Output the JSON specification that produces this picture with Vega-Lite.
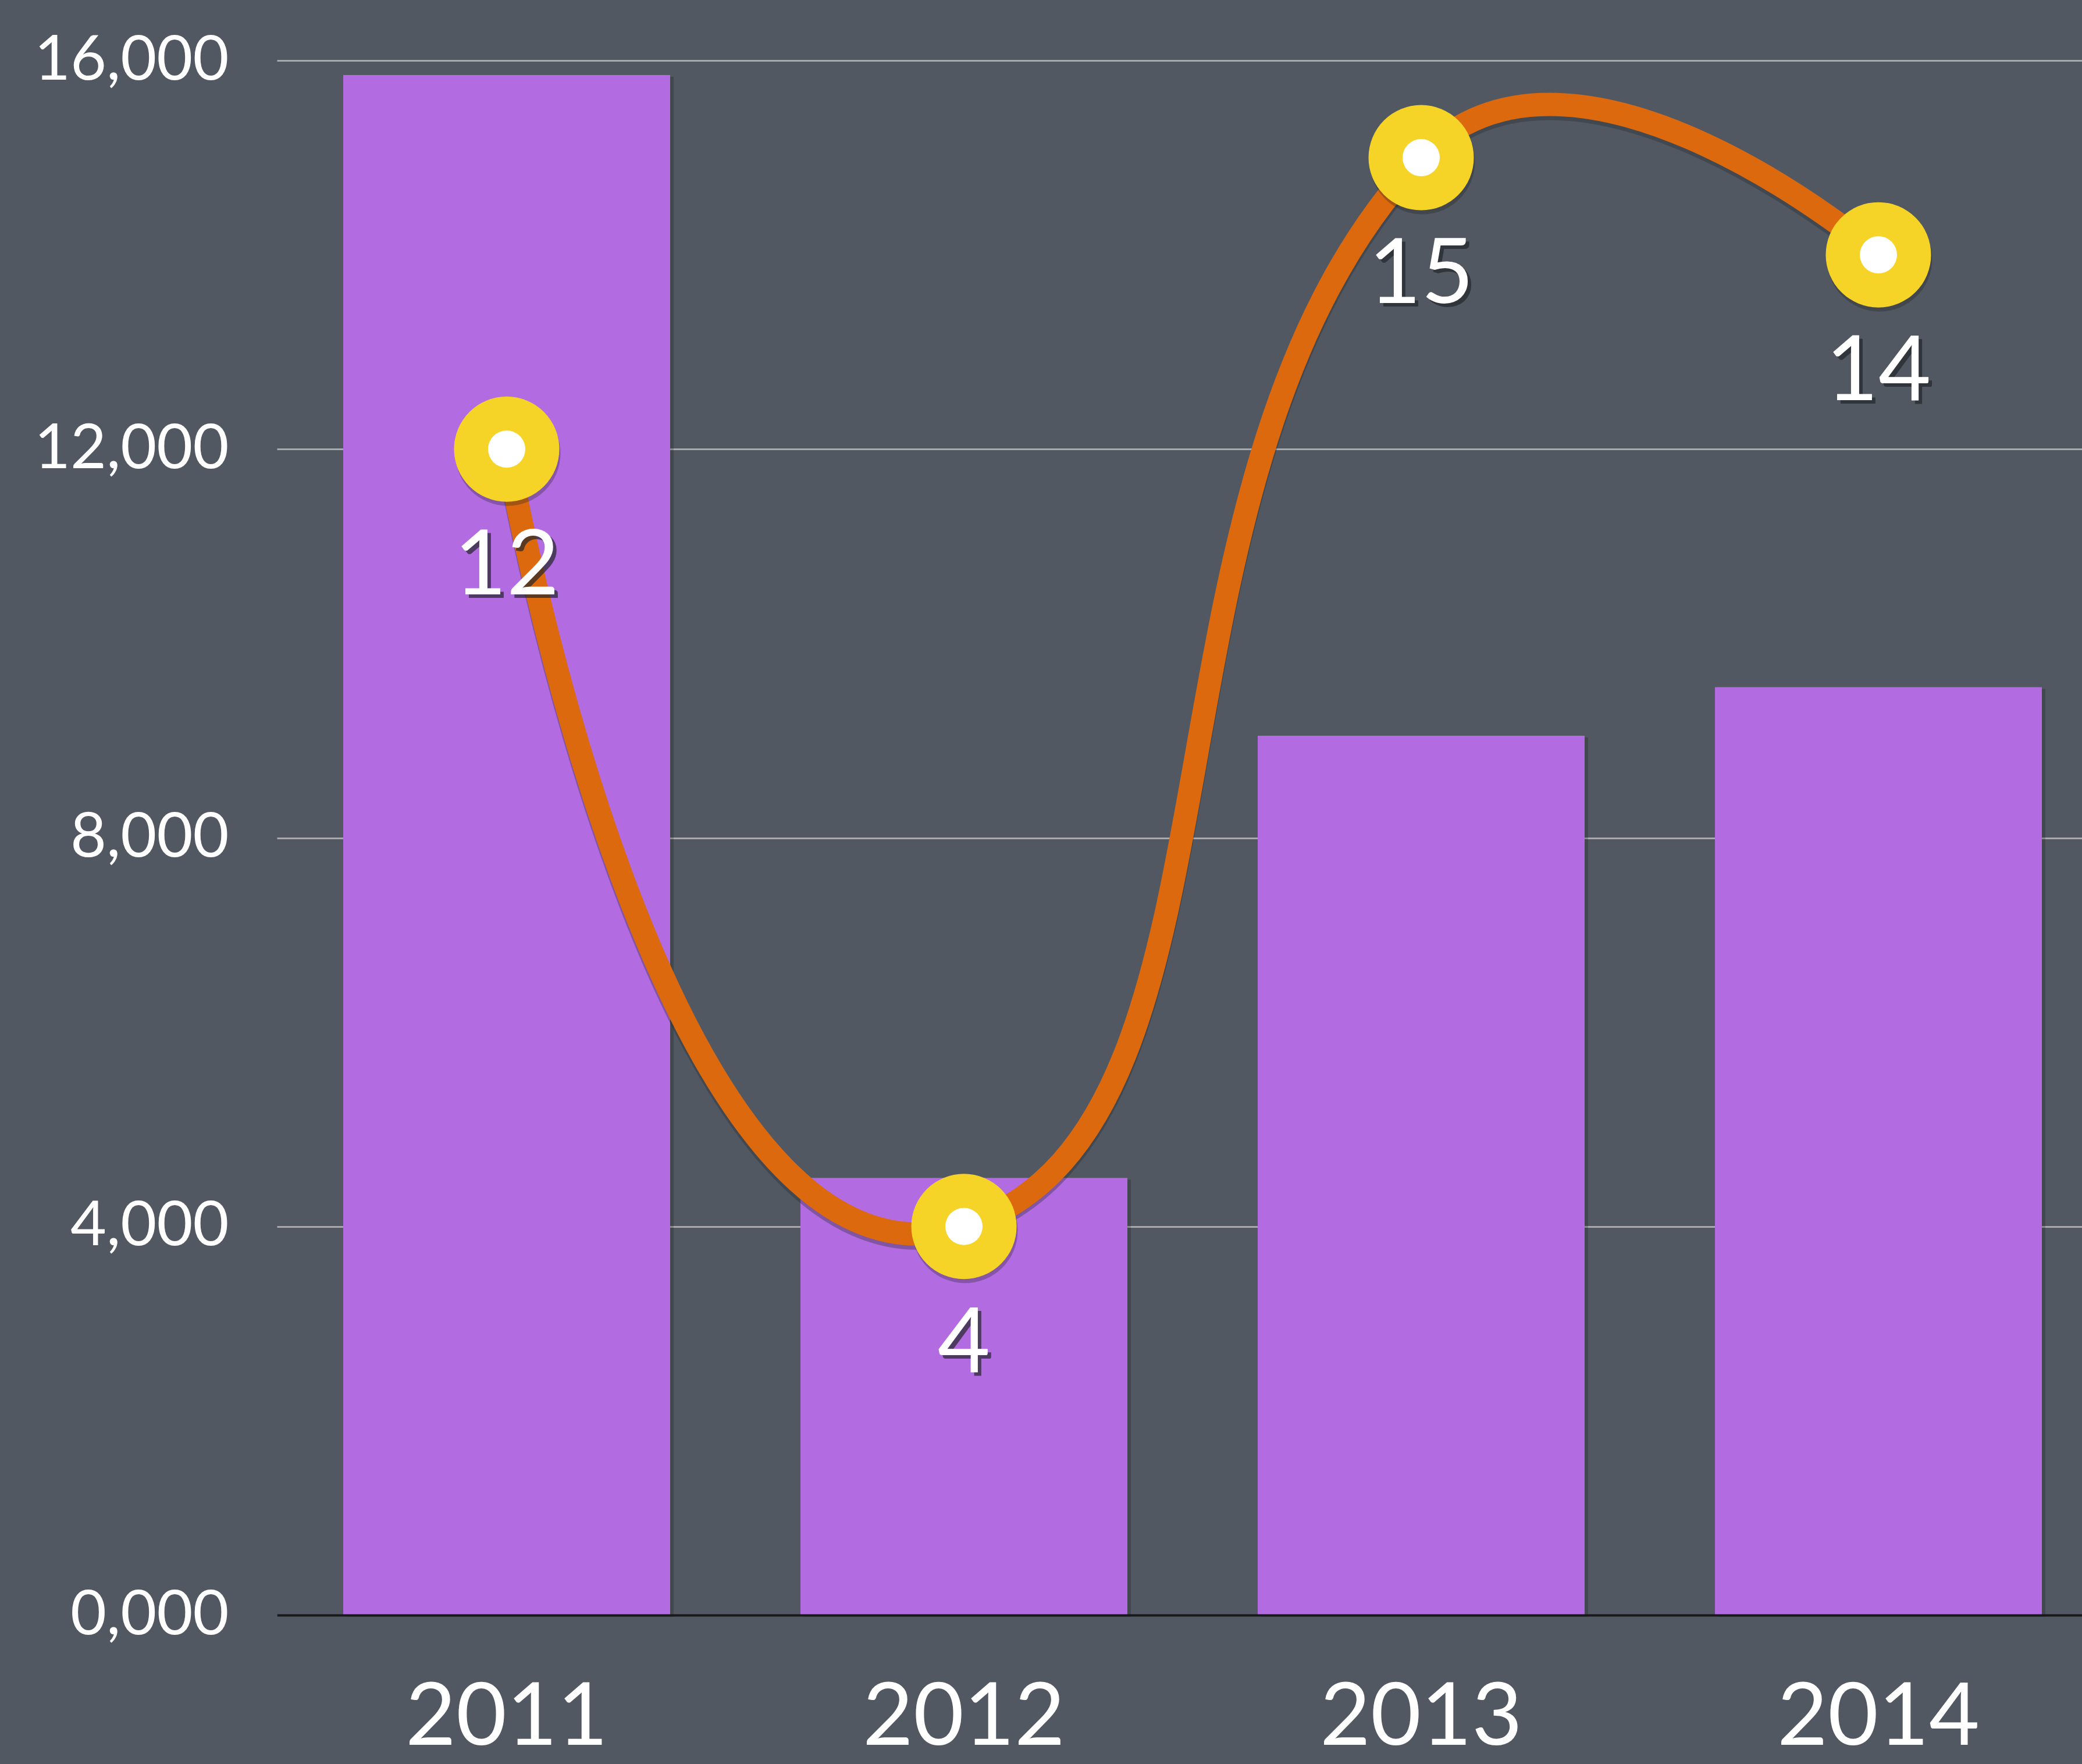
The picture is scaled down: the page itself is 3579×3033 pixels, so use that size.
{
  "$schema": "https://vega.github.io/schema/vega-lite/v6.json",
  "width": 3103,
  "height": 2673,
  "autosize": {"type": "none"},
  "padding": {"left": 476, "top": 104, "right": 0, "bottom": 256},
  "background": "#525861",
  "config": {"view": {"stroke": null}, "font": "Lato"},
  "data": {"values": [
    {"year": "2011", "sales": 15850, "count": 12},
    {"year": "2012", "sales": 4500, "count": 4},
    {"year": "2013", "sales": 9050, "count": 15},
    {"year": "2014", "sales": 9550, "count": 14}
  ]},
  "encoding": {
    "x": {
      "field": "year", "type": "ordinal",
      "scale": {"type": "band", "paddingInner": 0.285, "paddingOuter": 0.1164, "align": 0.623},
      "axis": {
        "title": null, "labelAngle": 0, "ticks": false, "tickSize": 0,
        "labelFontSize": 150, "labelPadding": 222, "labelBaseline": "alphabetic", "labelColor": "#ffffff",
        "labelFont": "Lato", "labelFontWeight": 400, "labelLimit": 0,
        "domainColor": "#17191c", "domainWidth": 4, "zindex": 1
      }
    }
  },
  "layer": [
    {
      "mark": {"type": "bar", "color": "#000000", "opacity": 0.18, "xOffset": 6, "yOffset": 3},
      "encoding": {
        "y": {"field": "sales", "type": "quantitative", "scale": {"domain": [0, 16000]}, "axis": null}
      }
    },
    {
      "mark": {"type": "bar", "color": "#b36be2"},
      "encoding": {
        "y": {
          "field": "sales", "type": "quantitative",
          "scale": {"domain": [0, 16000]},
          "axis": {
            "title": null, "values": [0, 4000, 8000, 12000, 16000], "format": "05,d",
            "grid": true, "gridColor": "#a7a9ac", "gridWidth": 3,
            "domain": false, "ticks": false, "tickSize": 0,
            "labelPadding": 83, "labelFontSize": 107, "labelColor": "#ffffff",
            "labelFont": "Lato", "labelFontWeight": 400, "labelLimit": 0
          }
        }
      }
    },
    {
      "mark": {"type": "line", "interpolate": "cardinal", "tension": -1, "color": "#262a30", "opacity": 0.35, "strokeWidth": 40, "yOffset": 7, "strokeDash": [3778, 200000]},
      "encoding": {
        "y": {"field": "count", "type": "quantitative", "scale": {"domain": [0, 16]}, "axis": null}
      }
    },
    {
      "mark": {"type": "line", "interpolate": "cardinal", "tension": 0, "color": "#262a30", "opacity": 0.35, "strokeWidth": 40, "yOffset": 7, "strokeDash": [200000, 3592], "strokeDashOffset": 200000},
      "encoding": {
        "y": {"field": "count", "type": "quantitative", "scale": {"domain": [0, 16]}, "axis": null}
      }
    },
    {
      "mark": {"type": "line", "interpolate": "cardinal", "tension": -1, "color": "#dd690e", "strokeWidth": 40, "strokeDash": [3778, 200000]},
      "encoding": {
        "y": {"field": "count", "type": "quantitative", "scale": {"domain": [0, 16]}, "axis": null}
      }
    },
    {
      "mark": {"type": "line", "interpolate": "cardinal", "tension": 0, "color": "#dd690e", "strokeWidth": 40, "strokeDash": [200000, 3592], "strokeDashOffset": 200000},
      "encoding": {
        "y": {"field": "count", "type": "quantitative", "scale": {"domain": [0, 16]}, "axis": null}
      }
    },
    {
      "mark": {"type": "point", "shape": "circle", "filled": true, "color": "#1e2126", "opacity": 0.3, "size": 32761, "yOffset": 7, "xOffset": 2},
      "encoding": {
        "y": {"field": "count", "type": "quantitative", "scale": {"domain": [0, 16]}, "axis": null}
      }
    },
    {
      "mark": {"type": "point", "shape": "circle", "filled": true, "color": "#f5d327", "opacity": 1, "size": 32761},
      "encoding": {
        "y": {"field": "count", "type": "quantitative", "scale": {"domain": [0, 16]}, "axis": null}
      }
    },
    {
      "mark": {"type": "point", "shape": "circle", "filled": true, "color": "#ffffff", "opacity": 1, "size": 4096},
      "encoding": {
        "y": {"field": "count", "type": "quantitative", "scale": {"domain": [0, 16]}, "axis": null}
      }
    },
    {
      "mark": {"type": "text", "color": "#23262b", "opacity": 0.7, "fontSize": 156, "font": "Lato", "fontWeight": 400, "baseline": "alphabetic", "align": "center", "dx": 6, "dy": 256},
      "encoding": {
        "y": {"field": "count", "type": "quantitative", "scale": {"domain": [0, 16]}, "axis": null},
        "text": {"field": "count", "type": "quantitative"}
      }
    },
    {
      "mark": {"type": "text", "color": "#ffffff", "fontSize": 156, "font": "Lato", "fontWeight": 400, "baseline": "alphabetic", "align": "center", "dy": 250},
      "encoding": {
        "y": {"field": "count", "type": "quantitative", "scale": {"domain": [0, 16]}, "axis": null},
        "text": {"field": "count", "type": "quantitative"}
      }
    }
  ],
  "resolve": {"scale": {"y": "independent"}}
}
